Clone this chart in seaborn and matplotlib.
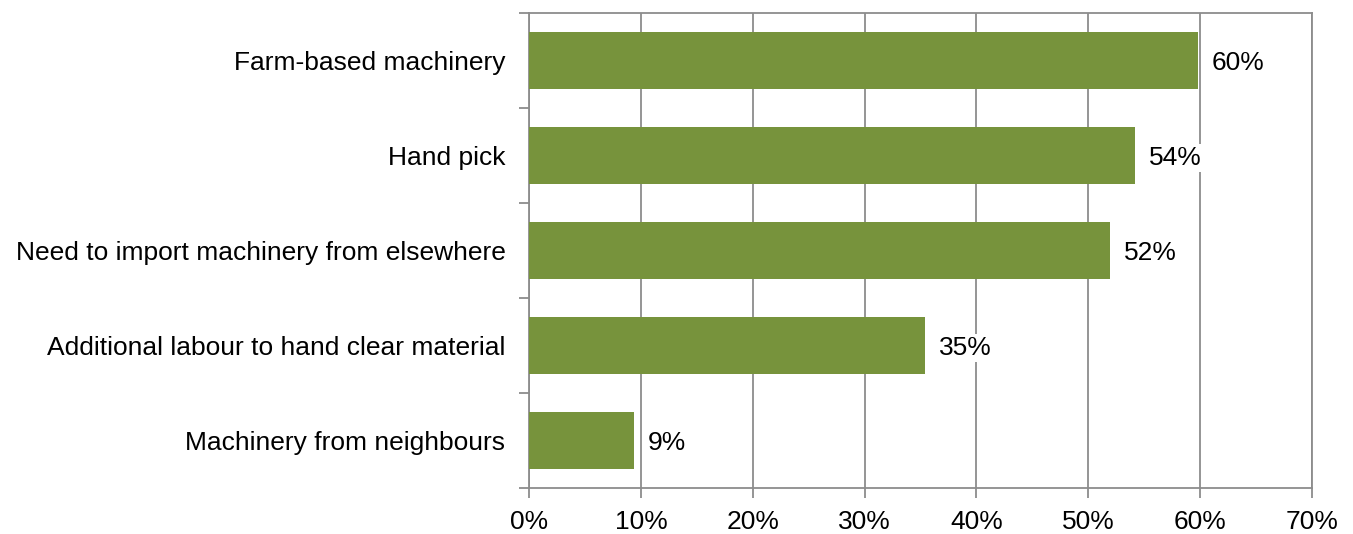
import matplotlib
matplotlib.use("Agg")
import matplotlib.pyplot as plt
import seaborn as sns
import pandas as pd
from matplotlib.ticker import FuncFormatter

categories = [
    "Farm-based machinery",
    "Hand pick",
    "Need to import machinery from elsewhere",
    "Additional labour to hand clear material",
    "Machinery from neighbours",
]
shares = [59.8, 54.2, 51.9, 35.4, 9.4]
x_ticks = [0, 10, 20, 30, 40, 50, 60, 70]

sns.set_style("white")
plt.rcParams["font.family"] = ["Liberation Sans", "DejaVu Sans"]

df = pd.DataFrame({"category": categories, "share": shares})

fig = plt.figure(figsize=(13.53, 5.34), dpi=100)
ax = fig.add_axes([0.391, 0.0861, 0.5787, 0.8896])

grey = "#8c8c8c"
sns.barplot(data=df, y="category", x="share", orient="h", color="#77933C",
            saturation=1, width=0.59, linewidth=0, ax=ax, zorder=3)

ax.set_xlim(0, 70)
ax.set_ylim(len(categories) - 0.5, -0.5)
ax.set_xticks(x_ticks)
ax.xaxis.set_major_formatter(FuncFormatter(lambda v, _: f"{v:.0f}%"))
ax.grid(axis="x", color=grey, linewidth=1.3, zorder=0)
ax.set_axisbelow(True)

# category boundaries as outward ticks on the left axis
ax.set_yticks(range(len(categories)))
ax.set_yticks([i - 0.5 for i in range(len(categories) + 1)], minor=True)
ax.tick_params(axis="y", which="major", length=0, pad=17, labelsize=19, labelcolor="black")
ax.tick_params(axis="y", which="minor", length=7, width=1.3, color=grey,
               direction="out", left=True)
ax.tick_params(axis="x", which="major", length=7, width=1.3, color=grey, direction="out",
               labelsize=19, labelcolor="black", pad=9, bottom=True)

for s in ax.spines.values():
    s.set_visible(True)
    s.set_color(grey)
    s.set_linewidth(1.3)

ax.set_xlabel("")
ax.set_ylabel("")

for i, v in enumerate(shares):
    ax.text(v + 1.25, i, f"{v:.0f}%", va="center_baseline", ha="left", fontsize=19,
            color="black", zorder=4,
            bbox=dict(facecolor="white", edgecolor="none", pad=1.5))

fig.savefig("out.png", dpi=100)
